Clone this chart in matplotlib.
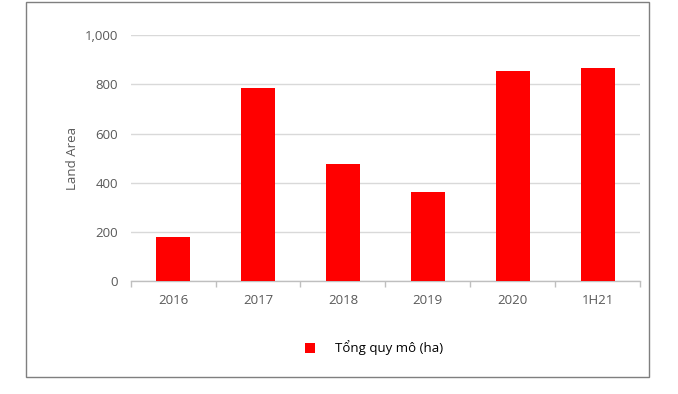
import matplotlib
matplotlib.use("Agg")
import matplotlib.pyplot as plt
from matplotlib.patches import Rectangle
from matplotlib.ticker import FixedLocator, FuncFormatter
import numpy as np

categories = ["2016", "2017", "2018", "2019", "2020", "1H21"]
values = [180, 787, 476, 361, 856, 866]
yticks = [0, 200, 400, 600, 800, 1000]
series_name = "Tổng quy mô (ha)"
ylabel = "Land Area"

plt.rcParams['font.family'] = ['Open Sans', 'DejaVu Sans']

W, H = 678, 394
fig = plt.figure(figsize=(W/100, H/100), dpi=100)
ax = fig.add_axes([130.7/W, 1-281/H, (640-130.7)/W, (281-35.3)/H])

x = np.arange(len(categories))
ax.bar(x, values, width=0.4, color="#ff0000", zorder=3, label=series_name)
ax.set_xlim(-0.5, len(categories)-0.5)
ax.set_ylim(0, 1000)
ax.set_yticks(yticks)
ax.yaxis.set_major_formatter(FuncFormatter(lambda v, p: f"{int(v):,}"))
ax.grid(axis="y", color="#d9d9d9", linewidth=1, zorder=0)
ax.set_xticks(x)
ax.set_xticklabels(categories)
ax.xaxis.set_minor_locator(FixedLocator(np.arange(-0.5, len(categories), 1.0)))
ax.tick_params(axis="x", which="major", length=0, pad=9, labelsize=9.5, colors="#595959")
ax.tick_params(axis="x", which="minor", length=4, color="#bfbfbf", width=1)
ax.tick_params(axis="y", length=0, pad=9, labelsize=9.5, colors="#595959")
for s in ["top", "right", "left"]:
    ax.spines[s].set_visible(False)
ax.spines["bottom"].set_color("#bfbfbf")
ax.spines["bottom"].set_linewidth(1)
ax.set_ylabel(ylabel, color="#595959", fontsize=9.5, labelpad=4)

leg = fig.legend(handles=ax.containers[0][:1], labels=[series_name],
                 loc="center", bbox_to_anchor=(374/W, 1-348/H), frameon=False,
                 fontsize=9.5, handlelength=0.75, handleheight=0.75, handletextpad=1.5)
for t in leg.get_texts():
    t.set_color("#000000")

fig.patches.append(Rectangle((25.5/W, 1-376.5/H), (648.5-25.5)/W, (376.5-1.5)/H,
                             transform=fig.transFigure, fill=False,
                             edgecolor="#7f7f7f", linewidth=1))

fig.savefig("out.png", dpi=100)
